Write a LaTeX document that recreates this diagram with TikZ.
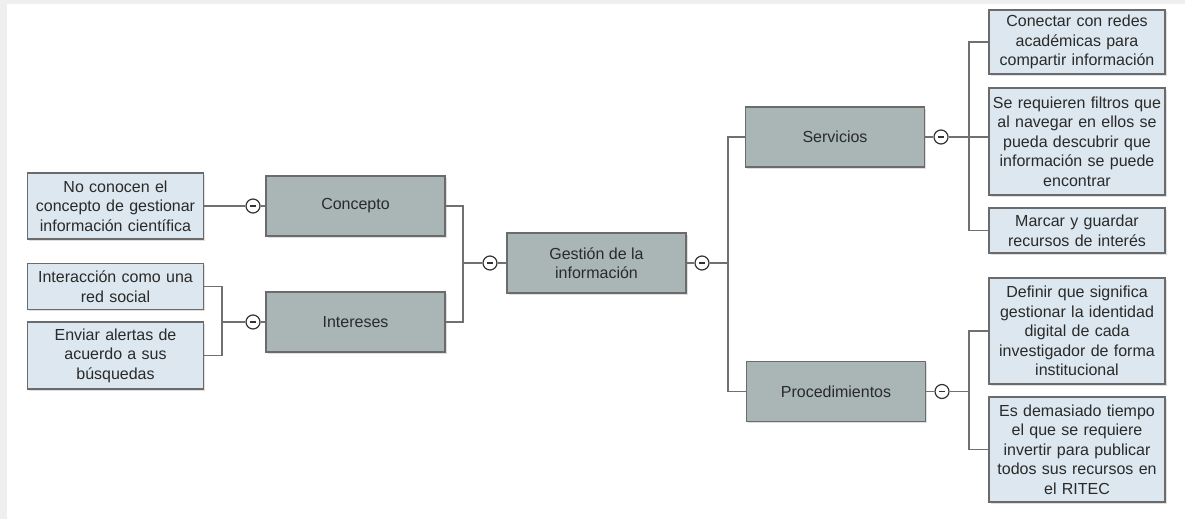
\documentclass[tikz,border=0pt]{standalone}
\usepackage{fontspec}
\setmainfont{Liberation Sans}
\usetikzlibrary{positioning,shadows}

\definecolor{topicfill}{HTML}{A9B6B5}
\definecolor{leaffill}{HTML}{DCE7EF}
\definecolor{boxline}{HTML}{6B6B6B}
\definecolor{linkline}{HTML}{707070}
\definecolor{txt}{HTML}{2A2A2A}
\definecolor{frame}{HTML}{EFEFEF}

\tikzset{
  box/.style={draw=boxline, line width=1.6pt, align=center, inner sep=2pt,
    text=txt, font=\fontsize{16}{19.6}\selectfont,
    drop shadow={shadow xshift=1.5pt, shadow yshift=-1.5pt, opacity=0.25}},
  topic/.style={box, fill=topicfill, minimum width=179pt, minimum height=60pt},
  leaf/.style={box, fill=leaffill, text width=172pt},
  fold/.style={circle, draw=black!80, fill=white, line width=1.2pt, minimum size=14pt, inner sep=0pt,
    path picture={\draw[line width=1.2pt] ([xshift=4pt]path picture bounding box.west) -- ([xshift=-4pt]path picture bounding box.east);}},
  link/.style={draw=linkline, line width=1.5pt}
}

\begin{document}
\begin{tikzpicture}[x=1pt, y=-1pt]
    \useasboundingbox (0,0) rectangle (1185,519);
    \fill[frame] (0,0) rectangle (1185,519);
    \fill[white] (7,4) rectangle (1185,519);

    % centre
    \node[topic] (gestion) at (596.5,263) {Gestión de la\\información};

    % left side
    \node[topic] (concepto) at (355.5,206) {Concepto};
    \node[topic] (intereses) at (355.5,322) {Intereses};
    \node[leaf, minimum height=66pt] (noconocen) at (115.5,206) {No conocen el\\concepto de gestionar\\información científica};
    \node[leaf, minimum height=46pt] (interaccion) at (115.5,286.5) {Interacción como una\\red social};
    \node[leaf, minimum height=67pt] (alertas) at (115.5,355.5) {Enviar alertas de\\acuerdo a sus\\búsquedas};

    % right side
    \node[topic] (servicios) at (835,137) {Servicios};
    \node[topic] (procedim) at (836,391.5) {Procedimientos};
    \node[leaf, minimum height=64pt] (redes) at (1077,42) {Conectar con redes\\académicas para\\compartir información};
    \node[leaf, minimum height=107pt] (filtros) at (1077,141.5) {Se requieren filtros que\\al navegar en ellos se\\pueda descubrir que\\información se puede\\encontrar};
    \node[leaf, minimum height=45pt] (marcar) at (1077,230.5) {Marcar y guardar\\recursos de interés};
    \node[leaf, minimum height=106pt] (identidad) at (1077,331) {Definir que significa\\gestionar la identidad\\digital de cada\\investigador de forma\\institucional};
    \node[leaf, minimum height=105pt] (tiempo) at (1077,449.5) {Es demasiado tiempo\\el que se requiere\\invertir para publicar\\todos sus recursos en\\el RITEC};

    % fold markers
    \node[fold] (f1) at (253,206) {};
    \node[fold] (f2) at (253,322) {};
    \node[fold] (f3) at (490,263) {};
    \node[fold] (f4) at (702,263) {};
    \node[fold] (f5) at (941,137) {};
    \node[fold] (f6) at (942,391.5) {};

    \coordinate (jleft) at (222,322);
    \coordinate (jmid) at (463,263);
    \coordinate (jright) at (728,263);
    \coordinate (jserv) at (969,137);
    \coordinate (jproc) at (969,391.5);

    % connectors
    \draw[link] (noconocen) -- (f1) -- (concepto);
    \draw[link] (interaccion.east) -| (jleft);
    \draw[link] (alertas.east) -| (jleft);
    \draw[link] (jleft) -- (f2) -- (intereses);
    \draw[link] (concepto.east) -| (jmid);
    \draw[link] (intereses.east) -| (jmid);
    \draw[link] (jmid) -- (f3) -- (gestion);
    \draw[link] (gestion) -- (f4) -- (jright);
    \draw[link] (jright) |- (servicios.west);
    \draw[link] (jright) |- (procedim.west);
    \draw[link] (servicios) -- (f5) -- (jserv);
    \draw[link] (jserv) |- (redes.west);
    \draw[link] (jserv) |- (marcar.west);
    \draw[link] (jserv) -- (jserv -| filtros.west);
    \draw[link] (procedim) -- (f6) -- (jproc);
    \draw[link] (jproc) |- (identidad.west);
    \draw[link] (jproc) |- (tiempo.west);
\end{tikzpicture}
\end{document}
